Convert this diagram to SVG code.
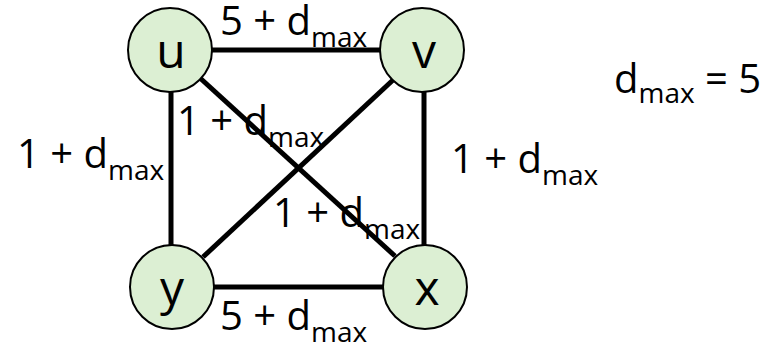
<svg xmlns="http://www.w3.org/2000/svg" width="763" height="347" viewBox="0 0 763 347">
<style>
.node circle{fill:#dcefd3;stroke:#000;stroke-width:2}
.node text{font-family:"Open Sans",sans-serif;font-size:48px;text-anchor:middle;fill:#000}
.edge{stroke:#000;stroke-width:5;fill:none}
.lbl{font-family:"Open Sans",sans-serif;font-size:40px;fill:#000}
.sub{font-size:28px}
</style>
<rect width="763" height="347" fill="#fff"/>
<g id="connectors">
<line class="edge" x1="212" y1="50" x2="380" y2="50"/>
<line class="edge" x1="214" y1="287" x2="383" y2="287"/>
<line class="edge" x1="171" y1="92" x2="171" y2="245"/>
<line class="edge" x1="424" y1="92" x2="424" y2="245"/>
<line class="edge" x1="200" y1="78" x2="395" y2="256"/>
<line class="edge" x1="393" y1="80" x2="203" y2="257"/>
</g>
<g id="node-u" class="node"><circle cx="170" cy="50" r="42"/><text x="171" y="68">u</text></g>
<g id="node-v" class="node"><circle cx="422" cy="50" r="42"/><text x="424" y="68">v</text></g>
<g id="node-y" class="node"><circle cx="172" cy="287" r="42"/><text x="172" y="305">y</text></g>
<g id="node-x" class="node"><circle cx="425" cy="287" r="42"/><text x="427" y="305">x</text></g>
<g id="labels">
<text class="lbl" x="220" y="35">5 + d<tspan class="sub" dy="12">max</tspan></text>
<text class="lbl" x="220" y="330">5 + d<tspan class="sub" dy="12">max</tspan></text>
<text class="lbl" x="17" y="168">1 + d<tspan class="sub" dy="12">max</tspan></text>
<text class="lbl" x="177" y="135">1 + d<tspan class="sub" dy="12">max</tspan></text>
<text class="lbl" x="273" y="227">1 + d<tspan class="sub" dy="12">max</tspan></text>
<text class="lbl" x="451" y="173">1 + d<tspan class="sub" dy="12">max</tspan></text>
<text class="lbl" x="614" y="93">d<tspan class="sub" dy="10">max</tspan><tspan dy="-10"> = 5</tspan></text>
</g>
</svg>
